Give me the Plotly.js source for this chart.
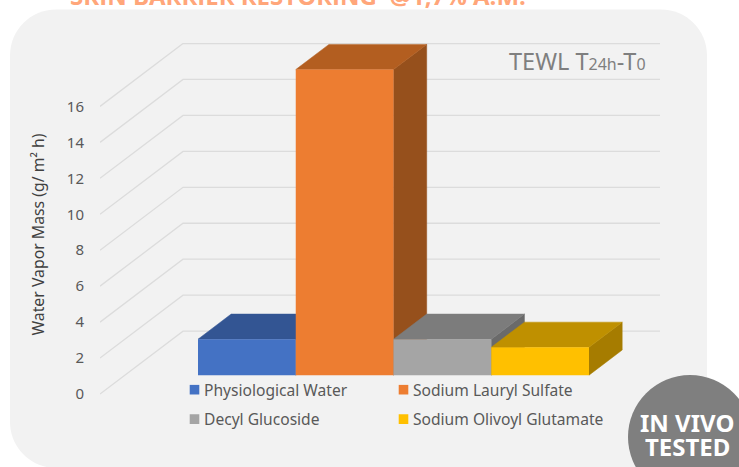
<!DOCTYPE html>
<html>
<head>
<meta charset="utf-8">
<script src="https://cdn.plot.ly/plotly-3.0.1.min.js"></script>
<style>
html,body{margin:0;padding:0;background:#fff;overflow:hidden}
#chart{width:739px;height:467px}
g.traces path{transform:translate(30.5px,0) scale(.8)}
</style>
</head>
<body>
<div id="chart"></div>
<script>
// ---- data ----
var categories = ["Physiological Water", "Sodium Lauryl Sulfate", "Decyl Glucoside", "Sodium Olivoyl Glutamate"];
var values = [2.0, 17.0, 2.0, 1.55];
var tickValues = [0, 2, 4, 6, 8, 10, 12, 14, 16];
var frontColors = ["#4472c4", "#ed7d31", "#a5a5a5", "#ffc000"];
var topColors = ["#335593", "#b35e20", "#7c7c7c", "#bf9000"];
var sideColors = ["#2d4b84", "#96501c", "#6a6a6a", "#a67c00"];
var legendIds = ["legend", "legend2", "legend3", "legend4"];

// ---- page geometry ----
var W = 739, H = 467;
var plotL = 100, plotR = 660, plotT = 42.5, plotB = 426;
var zeroPx = 394;
var pxPerCat = 97.75, pxPerVal = 18;
var firstBarLeftPx = 198;
var boxDx = 83 / pxPerCat, boxDy = 63 / pxPerVal;   // full depth of the 3D box, in axis units
var barDepthStart = 0.3, barDepthSize = 0.4;
var xMin = -0.5 - (firstBarLeftPx - plotL) / pxPerCat;
var xMax = xMin + (plotR - plotL) / pxPerCat;
var yMax = (zeroPx - plotT) / pxPerVal;
var yMin = (zeroPx - plotB) / pxPerVal;

function px(x) { return (x - plotL) / (plotR - plotL); }
function py(y) { return (plotB - y) / (plotB - plotT); }

var traces = [];
// walls: gridlines run along the left wall, then along the back wall
tickValues.forEach(function (v) {
  traces.push({
    type: "scatter", mode: "lines", showlegend: false, hoverinfo: "skip",
    x: [xMin, xMin + boxDx, xMax],
    y: [v, v + boxDy, v + boxDy],
    line: { color: "#dcdcdc", width: 1.3 }
  });
});

var floor = barDepthStart * boxDy;
var dx = barDepthSize * boxDx, dy = barDepthSize * boxDy;
// top and side faces, left to right
categories.forEach(function (name, i) {
  var l = i - 0.5, r = i + 0.5, b = floor, t = floor + values[i];
  traces.push({
    type: "scatter", mode: "lines", fill: "toself", showlegend: false, hoverinfo: "skip",
    x: [r, r + dx, r + dx, r, r], y: [b, b + dy, t + dy, t, b],
    fillcolor: sideColors[i], line: { color: sideColors[i], width: 0.5 }
  });
  traces.push({
    type: "scatter", mode: "lines", fill: "toself", showlegend: false, hoverinfo: "skip",
    x: [l, l + dx, r + dx, r, l], y: [t, t + dy, t + dy, t, t],
    fillcolor: topColors[i], line: { color: topColors[i], width: 0.5 }
  });
});
// front faces on an overlay subplot so that they sit above the neighbouring faces
categories.forEach(function (name, i) {
  traces.push({
    type: "bar", name: name, x: [i], y: [values[i]], base: [floor], width: [1],
    xaxis: "x2", yaxis: "y2", legend: legendIds[i],
    marker: { color: frontColors[i], line: { width: 0 } }
  });
});

var legendFont = { family: "Noto Sans, sans-serif", size: 15.6, color: "#595959" };
function legendBox(xPx, yPx) {
  return {
    orientation: "v", x: px(xPx), xanchor: "left", y: py(yPx), yanchor: "middle",
    bgcolor: "rgba(0,0,0,0)", font: legendFont, itemclick: false, itemdoubleclick: false
  };
}

var r = 46, k = r * 0.4477, x0 = 10, x1 = 707, y0 = 9, y1 = 468;
function pt(x, y) { return px(x) + "," + py(y); }
var panelPath = "M" + pt(x0 + r, y0) + " L" + pt(x1 - r, y0) +
  " C" + pt(x1 - k, y0) + " " + pt(x1, y0 + k) + " " + pt(x1, y0 + r) +
  " L" + pt(x1, y1 - r) +
  " C" + pt(x1, y1 - k) + " " + pt(x1 - k, y1) + " " + pt(x1 - r, y1) +
  " L" + pt(x0 + r, y1) +
  " C" + pt(x0 + k, y1) + " " + pt(x0, y1 - k) + " " + pt(x0, y1 - r) +
  " L" + pt(x0, y0 + r) +
  " C" + pt(x0, y0 + k) + " " + pt(x0 + k, y0) + " " + pt(x0 + r, y0) + " Z";

var layout = {
  width: W, height: H,
  margin: { l: plotL, r: W - plotR, t: plotT, b: H - plotB, pad: 0 },
  paper_bgcolor: "#ffffff", plot_bgcolor: "rgba(0,0,0,0)",
  barmode: "overlay", hovermode: false,
  font: { family: "Noto Sans, sans-serif", color: "#595959" },
  title: {
    text: "<b>SKIN BARRIER RESTORING  @1,7% A.M.</b>",
    x: 298 / W, xanchor: "center", xref: "container", y: 1 - 5 / H, yanchor: "bottom", yref: "container",
    font: { family: "Open Sans, sans-serif", size: 24, color: "#ffa67a" }
  },
  xaxis: { range: [xMin, xMax], visible: false, fixedrange: true },
  xaxis2: { range: [xMin, xMax], overlaying: "x", visible: false, fixedrange: true },
  yaxis: {
    range: [yMin, yMax], tickvals: tickValues, ticktext: tickValues.map(String),
    showgrid: false, zeroline: false, showline: false, ticks: "", ticklabelstandoff: 15,
    tickfont: { family: "Noto Sans, sans-serif", size: 15, color: "#595959" },
    fixedrange: true, automargin: true,
    title: { text: "Water Vapor Mass (g/ m² h)", standoff: 18,
      font: { family: "Noto Sans, sans-serif", size: 15.8, color: "#404040" } }
  },
  yaxis2: { range: [yMin, yMax], overlaying: "y", visible: false, fixedrange: true },
  legend: legendBox(164, 390),
  legend2: legendBox(373, 390),
  legend3: legendBox(164, 419.5),
  legend4: legendBox(373, 419.5),
  shapes: [
    { type: "path", xref: "paper", yref: "paper", layer: "below", path: panelPath,
      fillcolor: "#f2f2f2", line: { width: 0 } },
    { type: "circle", xref: "paper", yref: "paper", layer: "above",
      x0: px(628), x1: px(752), y0: py(375), y1: py(499),
      fillcolor: "#7f7f7f", line: { width: 0 } }
  ],
  annotations: [
    { xref: "paper", yref: "paper", x: px(647.5), y: py(60.5), xanchor: "right", yanchor: "middle",
      showarrow: false,
      text: "TEWL T<span style=\"font-size:16px\">24h</span>-T<span style=\"font-size:16px\">0</span>",
      font: { family: "Noto Sans, sans-serif", size: 23.5, color: "#7f7f7f" } },
    { xref: "paper", yref: "paper", x: px(686.5), y: py(422.5), xanchor: "center", yanchor: "middle",
      showarrow: false, text: "<b>IN VIVO</b>", height: 23, borderpad: 0,
      font: { family: "Noto Sans, sans-serif", size: 24, color: "#ffffff" } },
    { xref: "paper", yref: "paper", x: px(687), y: py(447), xanchor: "center", yanchor: "middle",
      showarrow: false, text: "<b>TESTED</b>", height: 23, borderpad: 0,
      font: { family: "Noto Sans, sans-serif", size: 24, color: "#ffffff" } }
  ]
};

Plotly.newPlot("chart", traces, layout, { displayModeBar: false, staticPlot: true });
</script>
</body>
</html>
